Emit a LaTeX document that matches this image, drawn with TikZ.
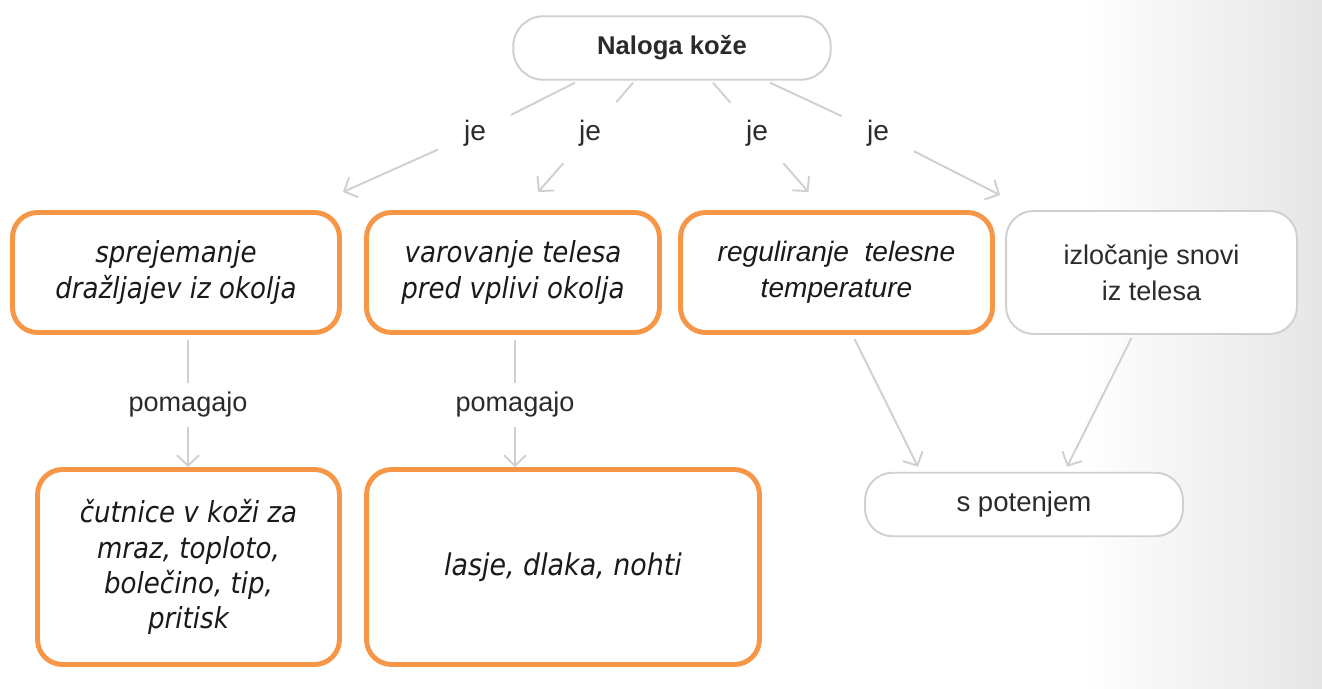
\documentclass[tikz,border=0pt]{standalone}
\usepackage{fontspec}
\setmainfont{Liberation Sans}
\newfontfamily\tah[FakeStretch=0.9]{DejaVu Sans}
\usetikzlibrary{arrows.meta,calc}
\definecolor{org}{HTML}{F79646}
\definecolor{lgray}{HTML}{D0D0D0}
\definecolor{txt}{HTML}{1A1A1A}
\definecolor{ltxt}{HTML}{2B2B2B}
\begin{document}
\begin{tikzpicture}[x=0.02cm,y=-0.02cm,
  obox/.style={draw=org,line width=2.8pt,rounded corners=0.5cm,fill=white,align=center,
    font=\tah\itshape\fontsize{16.5}{20.5}\selectfont,text=txt,inner sep=0pt},
  gbox/.style={draw=lgray,line width=1.1pt,rounded corners=0.55cm,fill=white,align=center,
    font=\fontsize{15.5}{20}\selectfont,text=ltxt,inner sep=0pt},
  line/.style={draw=lgray,line width=1.1pt},
  conn/.style={line,-{Straight Barb[length=2.1mm,width=4.4mm]}},
  jel/.style={circle,minimum size=1.6cm,inner sep=0pt,font=\fontsize{16}{18}\selectfont,text=ltxt},
  pml/.style={inner sep=5pt,font=\fontsize{15.4}{18}\selectfont,text=ltxt}
]
\useasboundingbox (0,0) rectangle (1322,689);
\fill[white] (0,0) rectangle (1322,689);
\shade[left color=white,right color=black!10] (1080,0) rectangle (1322,689);

\node[gbox,minimum width=6.35cm,minimum height=1.27cm,rounded corners=0.6cm,
  font=\bfseries\fontsize{14.6}{17}\selectfont] (top) at (672,48) {Naloga kože};

\node[obox,minimum width=6.54cm,minimum height=2.4cm,font=\tah\itshape\fontsize{16.5}{21}\selectfont] (A) at (176,272.5) {sprejemanje\\dražljajev iz okolja};
\node[obox,minimum width=5.86cm,minimum height=2.4cm,font=\tah\itshape\fontsize{16.5}{21}\selectfont] (B) at (513,272.5) {varovanje telesa\\pred vplivi okolja};
\node[obox,minimum width=6.24cm,minimum height=2.4cm,font=\itshape\fontsize{16}{20.5}\selectfont] (C) at (836.5,272.5) {reguliranje\ \ telesne\\temperature};
\node[gbox,minimum width=5.82cm,minimum height=2.46cm,font=\fontsize{15.4}{20.5}\selectfont] (D) at (1151.5,272.5) {izločanje snovi\\iz telesa};

\node[obox,minimum width=6.04cm,minimum height=3.9cm,font=\tah\itshape\fontsize{16.5}{20}\selectfont] (E) at (188.5,567) {čutnice v koži za\\mraz, toploto,\\bolečino, tip,\\pritisk};
\node[obox,minimum width=7.86cm,minimum height=3.9cm,font=\tah\itshape\fontsize{17}{20}\selectfont] (F) at (563,567) {lasje, dlaka, nohti};
\node[gbox,minimum width=6.36cm,minimum height=1.27cm,font=\fontsize{15.7}{18}\selectfont] (G) at (1024,504.5) {s potenjem};

% je labels
\node[jel] (je1) at (475,133) {je};
\node[jel] (je2) at (590,133) {je};
\node[jel] (je3) at (757,133) {je};
\node[jel] (je4) at (878,133) {je};

\coordinate (s1) at ($(top.south)+(-97,2)$);
\coordinate (s2) at ($(top.south)+(-39,2)$);
\coordinate (s3) at ($(top.south)+(41,2)$);
\coordinate (s4) at ($(top.south)+(98,2)$);
\coordinate (e1) at ($(A.north east)+(1,-18)$);
\coordinate (e2) at ($(B.north)+(25,-18)$);
\coordinate (e3) at ($(C.north)+(-28,-18)$);
\coordinate (e4) at ($(D.north west)+(-5,-15)$);

\draw[line] (s1) -- (je1); \draw[conn] (je1) -- (e1);
\draw[line] (s2) -- (je2); \draw[conn] (je2) -- (e2);
\draw[line] (s3) -- (je3); \draw[conn] (je3) -- (e3);
\draw[line] (s4) -- (je4); \draw[conn] (je4) -- (e4);

% pomagajo
\node[pml] (p1) at (188,405) {pomagajo};
\node[pml] (p2) at (515,405) {pomagajo};
\draw[line] (p1 |- A.south) ++(0,5) -- (p1);
\draw[conn] (p1) -- (p1 |- E.north);
\draw[line] (p2 |- B.south) ++(0,5) -- (p2);
\draw[conn] (p2) -- (p2 |- F.north);

% to s potenjem
\coordinate (c1) at ($(C.south)+(18,4)$);
\coordinate (g1) at ($(G.north)+(-106,-5)$);
\coordinate (d1) at ($(D.south)+(-20,3)$);
\coordinate (g2) at ($(G.north)+(43,-5)$);
\draw[conn] (c1) -- (g1);
\draw[conn] (d1) -- (g2);
\end{tikzpicture}
\end{document}
